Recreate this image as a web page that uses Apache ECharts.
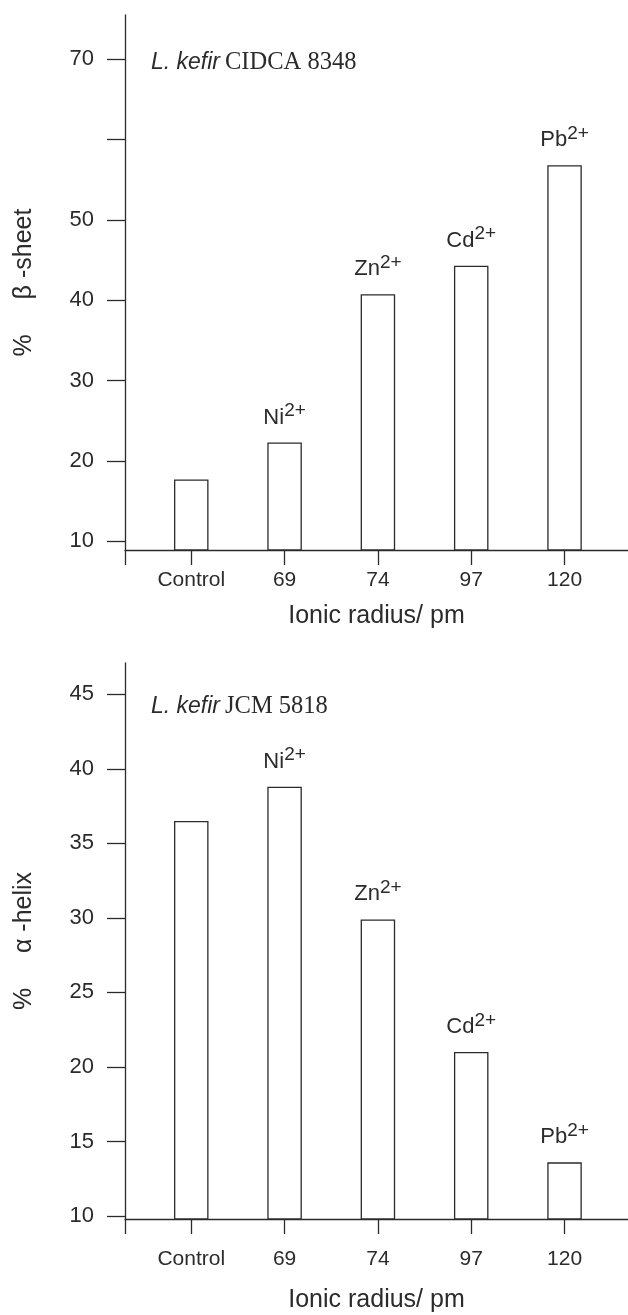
<!DOCTYPE html>
<html>
<head>
<meta charset="utf-8">
<script src="https://cdn.jsdelivr.net/npm/echarts@6/dist/echarts.min.js"></script>
<style>
  body { margin: 0; background: #fff; }
  #chart { width: 628px; height: 1315px; }
</style>
</head>
<body>
<div id="chart"></div>
<script>
// values
var categories = ['Control', '69', '74', '97', '120'];
var ions = ['', 'Ni', 'Zn', 'Cd', 'Pb'];
var charge = '2+';
var betaSheet = [17.7, 22.3, 40.75, 44.3, 56.8];
var alphaHelix = [36.5, 38.8, 29.9, 21.0, 13.6];
var betaTicks = [10, 20, 30, 40, 50, 60, 70];
var betaTickLabels = [10, 20, 30, 40, 50, 70];
var alphaTicks = [10, 15, 20, 25, 30, 35, 40, 45];

var ink = '#2b2b2b';
var sans = 'Liberation Sans';
var xMin = -0.71, xMax = 4.68;

function pairs(vals){
    return vals.map(function(v, i){ return [i, v]; });
}

function xAxisFor(gridIndex, labelMargin, nameGap){
    return {
        type: 'value',
        gridIndex: gridIndex,
        min: xMin,
        max: xMax,
        name: 'Ionic radius/ pm',
        nameLocation: 'middle',
        nameGap: nameGap,
        nameTextStyle: { fontFamily: sans, fontSize: 25, color: ink },
        axisLine: { show: true, onZero: false, lineStyle: { color: ink, width: 1.3 } },
        axisTick: {
            show: true, length: 15,
            customValues: [xMin, 0, 1, 2, 3, 4],
            lineStyle: { color: ink, width: 1.3 }
        },
        axisLabel: {
            margin: labelMargin,
            customValues: [0, 1, 2, 3, 4],
            formatter: function(v){ return categories[Math.round(v)]; },
            fontFamily: sans, fontSize: 21, color: ink
        },
        splitLine: { show: false }
    };
}

function yAxisFor(gridIndex, min, max, ticks, labels, name){
    return {
        type: 'value',
        gridIndex: gridIndex,
        min: min,
        max: max,
        name: name,
        nameLocation: 'middle',
        nameRotate: 90,
        nameGap: 88,
        nameTextStyle: { fontFamily: sans, fontSize: 25, color: ink },
        axisLine: { show: true, onZero: false, lineStyle: { color: ink, width: 1.3 } },
        axisTick: { show: true, length: 18, customValues: ticks, lineStyle: { color: ink, width: 1.3 } },
        axisLabel: { margin: 31, customValues: labels, fontFamily: sans, fontSize: 22, color: ink },
        splitLine: { show: false }
    };
}

function barSeries(index, vals){
    return {
        type: 'bar',
        xAxisIndex: index,
        yAxisIndex: index,
        data: pairs(vals),
        barWidth: 34.5,
        itemStyle: { color: '#fff', borderColor: ink, borderWidth: 1.3 },
        label: {
            show: true,
            position: 'top',
            distance: 14,
            formatter: function(p){
                var ion = ions[p.dataIndex];
                return ion ? '{b|' + ion + '}{s|' + charge + '}' : '';
            },
            rich: {
                b: { fontFamily: sans, fontSize: 22, color: ink, verticalAlign: 'bottom', lineHeight: 27 },
                s: { fontFamily: sans, fontSize: 19, color: ink, verticalAlign: 'top', lineHeight: 27 }
            }
        }
    };
}

function titleFor(top, strain){
    return {
        left: 146,
        top: top,
        text: '{i|L. kefir} {r|' + strain + '}',
        textStyle: {
            rich: {
                i: { fontFamily: sans, fontStyle: 'italic', fontWeight: 'normal', fontSize: 23, color: ink },
                r: { fontFamily: 'Liberation Serif', fontWeight: 'normal', fontSize: 24.5, color: ink }
            }
        }
    };
}

function display_structure(){
    var chart = echarts.init(document.getElementById('chart'));
    var option = {
        animation: false,
        backgroundColor: '#fff',
        title: [titleFor(45, 'CIDCA 8348'), titleFor(689, 'JCM 5818')],
        grid: [
            { left: 125, right: 0, top: 15, bottom: 765 },
            { left: 125, right: 0, top: 663, bottom: 96 }
        ],
        xAxis: [xAxisFor(0, 20, 54), xAxisFor(1, 30, 69)],
        yAxis: [
            yAxisFor(0, 8.92, 75.5, betaTicks, betaTickLabels, '%     \u03b2 -sheet'),
            yAxisFor(1, 9.8, 47.1, alphaTicks, alphaTicks, '%     \u03b1 -helix')
        ],
        series: [barSeries(0, betaSheet), barSeries(1, alphaHelix)]
    };
    chart.setOption(option);
}

display_structure();
</script>
</body>
</html>
